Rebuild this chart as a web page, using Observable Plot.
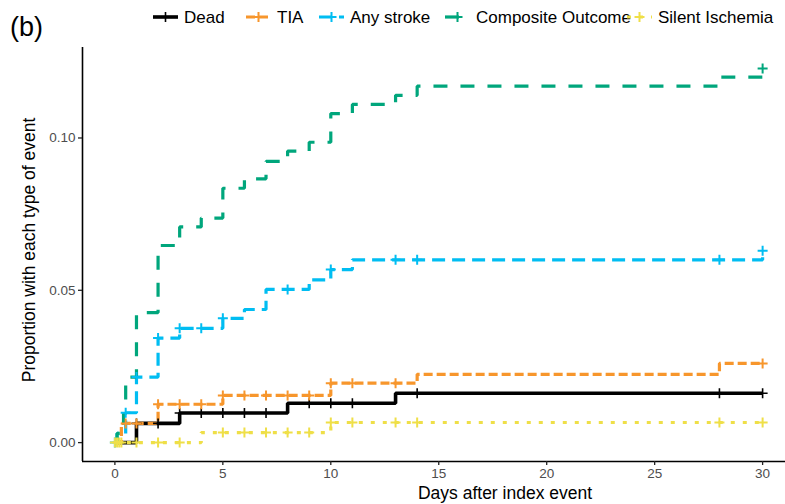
<!DOCTYPE html>
<html><head><meta charset="utf-8">
<script src="https://cdn.jsdelivr.net/npm/d3@7"></script>
<script src="https://cdn.jsdelivr.net/npm/@observablehq/plot@0.6"></script>
<style>
body{margin:0;background:#fff;}
#chart{width:785px;height:504px;overflow:hidden;position:relative;}
svg{font-family:"Liberation Sans",Arial,sans-serif;}
</style>
</head><body><div id="chart"></div>
<script>
const seriesNames = ["Dead", "TIA", "Any stroke", "Composite Outcome", "Silent Ischemia"];
const seriesColors = ["#000000", "#F7962C", "#00BDF2", "#00A67C", "#EFDF48"];
const seriesDash = ["none", "9,4", "13,7", "14,13", "4,8"];
const seriesWidth = [3.6, 3.2, 3.2, 3.2, 3.2];

// step times (days) and cumulative proportions
const deadDays = [0, 1, 3, 8, 13, 30];
const deadVals = [0, 0.0063, 0.0097, 0.0129, 0.0162, 0.0162];
const tiaDays = [0, 0.3, 2, 5, 10, 14, 28, 30];
const tiaVals = [0, 0.0063, 0.0126, 0.0155, 0.0195, 0.0224, 0.026, 0.026];
const strokeDays = [0, 0.1, 0.5, 1, 2, 3, 5, 6, 7, 9, 10, 11, 30];
const strokeVals = [0, 0.003, 0.0098, 0.0215, 0.0343, 0.0375, 0.0408, 0.0437, 0.0503, 0.0534, 0.0568, 0.060, 0.063];
const compDays = [0, 0.1, 0.4, 0.5, 1, 2, 3, 4, 5, 6, 7, 8, 9, 10, 11, 13, 14, 28, 30];
const compVals = [0, 0.003, 0.0095, 0.0215, 0.0427, 0.0647, 0.0708, 0.0737, 0.0835, 0.0866, 0.0923, 0.0957, 0.0986, 0.108, 0.111, 0.114, 0.117, 0.120, 0.1228];
const silentDays = [0, 4, 10, 30];
const silentVals = [0, 0.0033, 0.0066, 0.0066];

// censoring marks (days)
const deadCensor = [1, 2, 3, 4, 5, 6, 7, 9, 10, 11, 14, 28, 30];
const tiaCensor = [0.5, 1, 2, 3, 4, 5, 6, 7, 8, 9, 10, 11, 13, 30];
const strokeCensor = [0, 0.5, 1, 2, 3, 4, 5, 8, 10, 13, 14, 28, 30];
const compCensor = [30];
const silentCensor = [0, 0.1, 0.2, 0.3, 1, 2, 3, 5, 6, 7, 8, 9, 10, 11, 13, 14, 28, 30];

const xTicks = [0, 5, 10, 15, 20, 25, 30];
const yTicks = [0, 0.05, 0.10];
const xDomain = [-1.5, 31.06];
const yDomain = [-0.0062, 0.1297];

const allDays = [deadDays, tiaDays, strokeDays, compDays, silentDays];
const allVals = [deadVals, tiaVals, strokeVals, compVals, silentVals];
const allCensor = [deadCensor, tiaCensor, strokeCensor, compCensor, silentCensor];

function stepAt(days, vals, t) {
  let v = vals[0];
  for (let i = 0; i < days.length; i++) if (days[i] <= t) v = vals[i];
  return v;
}

const lineRows = seriesNames.map((s, i) => allDays[i].map((d, j) => ({series: s, day: d, value: allVals[i][j]})));
const censorRows = seriesNames.map((s, i) => allCensor[i].map(d => ({series: s, day: d, value: stepAt(allDays[i], allVals[i], d)})));

const plusSymbol = {
  draw(context, size) {
    const r = Math.sqrt(size / Math.PI);
    context.moveTo(-r, 0); context.lineTo(r, 0);
    context.moveTo(0, -r); context.lineTo(0, r);
  }
};

const marks = [];
seriesNames.forEach((s, i) => {
  marks.push(Plot.line(lineRows[i], {
    x: "day", y: "value", curve: "step-after",
    stroke: seriesColors[i], strokeWidth: seriesWidth[i],
    strokeDasharray: seriesDash[i] === "none" ? null : seriesDash[i],
    strokeLinecap: "butt", strokeLinejoin: "miter"
  }));
});
seriesNames.forEach((s, i) => {
  marks.push(Plot.dot(censorRows[i], {
    x: "day", y: "value", symbol: plusSymbol, r: 5,
    stroke: seriesColors[i], fill: "none", strokeWidth: i === 0 ? 1.6 : 2
  }));
});
marks.push(Plot.ruleX([xDomain[0]], {stroke: "#000", strokeWidth: 1.6}));
marks.push(Plot.ruleY([yDomain[0]], {stroke: "#000", strokeWidth: 1.6}));
marks.push(Plot.axisX({ticks: xTicks, tickSize: 4, tickPadding: 3, fontSize: 13.5, label: null, tickFormat: d => String(d)}));
marks.push(Plot.axisY({ticks: yTicks, tickSize: 4, tickPadding: 3, fontSize: 13.5, label: null, tickFormat: d3.format(".2f")}));

const svg = Plot.plot({
  width: 785, height: 504,
  marginLeft: 82, marginRight: 0, marginTop: 47, marginBottom: 43,
  style: {fontFamily: "'Liberation Sans', Arial, sans-serif", background: "#fff", overflow: "hidden"},
  x: {domain: xDomain},
  y: {domain: yDomain},
  marks
});
document.getElementById("chart").appendChild(svg);

const sel = d3.select(svg);
sel.selectAll('g[aria-label="x-axis tick label"], g[aria-label="y-axis tick label"]').attr("fill", "#4d4d4d");
sel.selectAll('g[aria-label="x-axis tick"], g[aria-label="y-axis tick"]').attr("stroke", "#222").attr("stroke-width", 1.3);

// axis titles
sel.append("text").attr("x", 505).attr("y", 499).attr("text-anchor", "middle")
  .attr("font-size", 17.5).attr("fill", "#000").text("Days after index event");
sel.append("text").attr("transform", "translate(35,250) rotate(-90)").attr("text-anchor", "middle")
  .attr("font-size", 17.5).attr("fill", "#000").text("Proportion with each type of event");
// panel tag
sel.append("text").attr("x", 10).attr("y", 36).attr("text-anchor", "start")
  .attr("font-size", 27).attr("fill", "#000").text("(b)");

// legend
const legendKeyX = [153, 246, 319, 445, 627];
const leg = sel.append("g").attr("text-anchor", "start");
seriesNames.forEach((s, i) => {
  const g = leg.append("g").attr("transform", `translate(${legendKeyX[i]},17)`);
  g.append("line").attr("x1", 0).attr("x2", 25).attr("y1", 0).attr("y2", 0)
    .attr("stroke", seriesColors[i]).attr("stroke-width", seriesWidth[i])
    .attr("stroke-dasharray", seriesDash[i] === "none" ? null : seriesDash[i]);
  g.append("path").attr("d", "M7.5,0H17.5M12.5,-5V5").attr("stroke", seriesColors[i])
    .attr("stroke-width", i === 0 ? 1.6 : 2).attr("fill", "none");
  g.append("text").attr("x", 31).attr("y", 6).attr("text-anchor", "start")
    .attr("font-size", 17).attr("fill", "#000").text(s);
});
</script>
</body></html>
